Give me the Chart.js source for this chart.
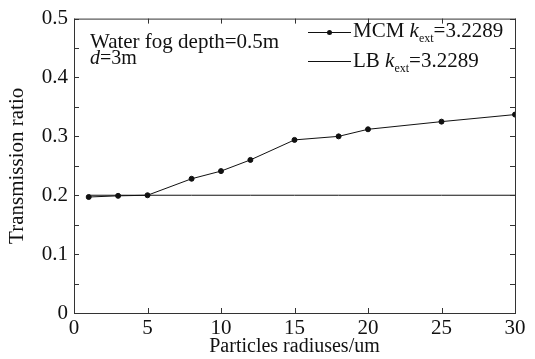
<!DOCTYPE html>
<html>
<head>
<meta charset="utf-8">
<script src="https://cdn.jsdelivr.net/npm/chart.js@4/dist/chart.umd.min.js"></script>
<style>
  html, body { margin: 0; padding: 0; background: #fff; }
  #wrap { width: 535px; height: 359px; }
</style>
</head>
<body>
<div id="wrap"><canvas id="chart" width="535" height="359"></canvas></div>
<script>
// Datos
const radios = [1, 3, 5, 8, 10, 12, 15, 18, 20, 25, 30];
const mcm = [0.197, 0.199, 0.200, 0.228, 0.241, 0.260, 0.294, 0.300, 0.312, 0.325, 0.337];
const lb = [0.200, 0.200, 0.200, 0.200, 0.200, 0.200, 0.200, 0.200, 0.200, 0.200, 0.200];
const xTicks = [0, 5, 10, 15, 20, 25, 30];
const yTicks = [0, 0.1, 0.2, 0.3, 0.4, 0.5];

const SERIF = '"Liberation Serif", "Times New Roman", serif';

function toPoints(xs, ys) { return xs.map((x, i) => ({ x, y: ys[i] })); }

// Caja del área de la gráfica + marcas hacia dentro (estilo MATLAB)
const boxTicks = {
    id: 'boxTicks',
    afterDraw(chart) {
        const { ctx, chartArea: a, scales: { x, y } } = chart;
        ctx.save();
        ctx.strokeStyle = '#333';
        ctx.lineWidth = 1;
        ctx.strokeRect(a.left + 0.5, a.top + 0.5, a.right - a.left, a.bottom - a.top);
        ctx.beginPath();
        x.ticks.forEach((t) => {
            const px = Math.round(x.getPixelForValue(t.value)) + 0.5;
            ctx.moveTo(px, a.bottom); ctx.lineTo(px, a.bottom - 5);
            ctx.moveTo(px, a.top); ctx.lineTo(px, a.top + 5);
        });
        y.ticks.forEach((t) => {
            const py = Math.round(y.getPixelForValue(t.value)) + 0.5;
            ctx.moveTo(a.left, py); ctx.lineTo(a.left + 5, py);
            ctx.moveTo(a.right, py); ctx.lineTo(a.right - 5, py);
        });
        ctx.stroke();

        // Texto de condiciones
        ctx.fillStyle = '#111';
        ctx.textBaseline = 'alphabetic';
        ctx.font = '21px ' + SERIF;
        ctx.fillText('Water fog depth=0.5m', 90, 48);
        ctx.font = 'italic 20px ' + SERIF;
        ctx.fillText('d', 90, 64);
        let w = ctx.measureText('d').width;
        ctx.font = '20px ' + SERIF;
        ctx.fillText('=3m', 90 + w, 64);

        // Leyenda
        const rows = [
            { name: 'MCM ', y: 32, marker: true, base: 37 },
            { name: 'LB ', y: 61, marker: false, base: 67 }
        ];
        rows.forEach((r) => {
            ctx.strokeStyle = '#111';
            ctx.beginPath();
            ctx.moveTo(308, r.y + 0.5); ctx.lineTo(351, r.y + 0.5);
            ctx.stroke();
            if (r.marker) {
                ctx.beginPath();
                ctx.arc(329.5, r.y + 0.5, 2.5, 0, Math.PI * 2);
                ctx.fill();
            }
            let cx = 353;
            ctx.font = '21px ' + SERIF;
            ctx.fillText(r.name, cx, r.base);
            cx += ctx.measureText(r.name).width;
            ctx.font = 'italic 21px ' + SERIF;
            ctx.fillText('k', cx, r.base);
            cx += ctx.measureText('k').width;
            ctx.font = '12px ' + SERIF;
            ctx.fillText('ext', cx, r.base + 5);
            cx += ctx.measureText('ext').width;
            ctx.font = '21px ' + SERIF;
            ctx.fillText('=3.2289', cx, r.base);
        });
        ctx.restore();
    }
};

new Chart(document.getElementById('chart'), {
    type: 'line',
    data: {
        datasets: [
            { label: 'MCM', data: toPoints(radios, mcm), borderColor: '#111', backgroundColor: '#111',
              borderWidth: 1, pointRadius: 2.5, pointHoverRadius: 2.5, tension: 0 },
            { label: 'LB', data: toPoints(radios, lb), borderColor: '#111', borderWidth: 1,
              pointRadius: 0, tension: 0 }
        ]
    },
    options: {
        responsive: false,
        animation: false,
        layout: { padding: { top: 16, right: 20, left: 0, bottom: 0 } },
        plugins: { legend: { display: false }, tooltip: { enabled: false } },
        scales: {
            x: {
                type: 'linear', min: 0, max: 30,
                afterBuildTicks: (s) => { s.ticks = xTicks.map((v) => ({ value: v })); },
                afterFit: (s) => { s.height = 46; },
                grid: { display: false, drawTicks: false },
                border: { display: false },
                ticks: { color: '#111', padding: 3, maxRotation: 0, font: { family: SERIF, size: 21 } },
                title: { display: true, text: 'Particles radiuses/um', color: '#111', padding: { top: 2, bottom: 0 },
                         font: { family: SERIF, size: 20 } }
            },
            y: {
                type: 'linear', min: 0, max: 0.5,
                afterBuildTicks: (s) => {
                    const t = [];
                    for (let i = 0; i <= 10; i++) t.push({ value: i * 0.05 });
                    s.ticks = t;
                },
                afterFit: (s) => { s.width = 74; },
                grid: { display: false, drawTicks: false },
                border: { display: false },
                ticks: {
                    color: '#111', padding: 6, font: { family: SERIF, size: 21 },
                    callback: (v) => {
                        const k = yTicks.find((t) => Math.abs(t - v) < 1e-6);
                        return k === undefined ? '' : String(k);
                    }
                },
                title: { display: true, text: 'Transmission ratio', color: '#111', padding: { top: 5, bottom: 0 },
                         font: { family: SERIF, size: 21 } }
            }
        }
    },
    plugins: [boxTicks]
});
</script>
</body>
</html>
